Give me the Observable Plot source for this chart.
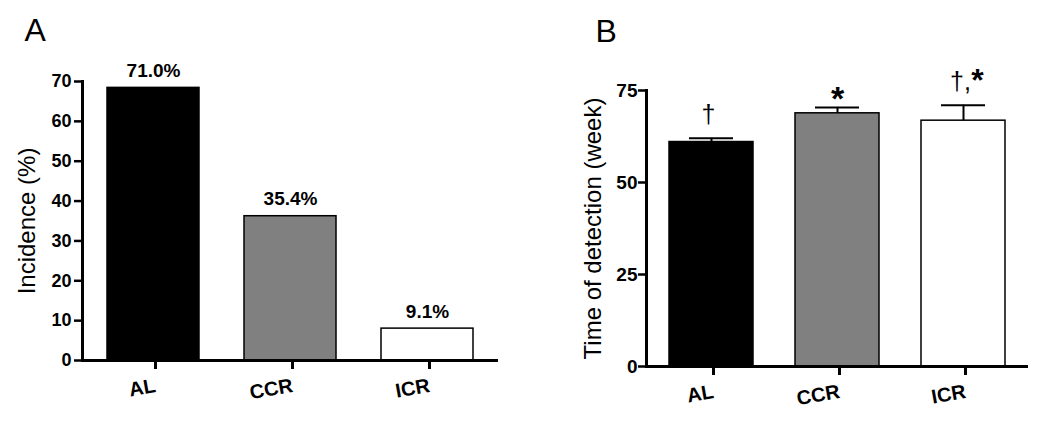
<!DOCTYPE html>
<html><head><meta charset="utf-8">
<script src="https://cdn.jsdelivr.net/npm/d3@7"></script>
<script src="https://cdn.jsdelivr.net/npm/@observablehq/plot@0.6"></script>
<style>
body{margin:0;background:#fff;}
#wrap{display:flex;width:1050px;height:430px;}
</style></head><body><div id="wrap"></div>
<script>
const categories = ["AL", "CCR", "ICR"];
const incidence = [68.4, 36.2, 8.0];
const incidenceLabels = ["71.0%", "35.4%", "9.1%"];
const detectionMean = [61.0, 68.8, 66.8];
const detectionSem = [1.0, 1.6, 4.2];
const detectionNotes = ["†", "*", "†,*"];
const incidenceTicks = [0, 10, 20, 30, 40, 50, 60, 70];
const detectionTicks = [0, 25, 50, 75];
const barColors = ["#000000", "#808080", "#ffffff"];

const font = "'Liberation Sans', Arial, Helvetica, sans-serif";
const rowsA = categories.map((c, i) => ({cat: c, value: incidence[i], label: incidenceLabels[i]}));
const rowsB = categories.map((c, i) => ({cat: c, mean: detectionMean[i], sem: detectionSem[i], top: detectionMean[i] + detectionSem[i], note: detectionNotes[i]}));

const style = {fontFamily: font, color: "#000", background: "white", fontWeight: "bold", fontSize: "18px"};

const A = Plot.plot({
  width: 525, height: 430, marginLeft: 82, marginRight: 27, marginTop: 81, marginBottom: 70,
  style,
  x: {domain: categories, paddingInner: 0.33, paddingOuter: 0.18},
  y: {domain: [0, 70]},
  color: {domain: categories, range: barColors},
  marks: [
    Plot.barY(rowsA, {x: "cat", y: "value", fill: "cat", stroke: "#000", strokeWidth: 1.5}),
    Plot.text(rowsA, {x: "cat", y: "value", text: "label", lineAnchor: "bottom", dy: -11, fontSize: 19, fontWeight: "bold"}),
    Plot.frame({anchor: "left", strokeWidth: 3}),
    Plot.ruleY([0], {strokeWidth: 3}),
    Plot.axisY(incidenceTicks, {tickSize: 8, tickPadding: 3, strokeWidth: 2.5, fontSize: 18, fontWeight: "bold", label: null}),
    Plot.axisX({tickSize: 9, strokeWidth: 3, tickPadding: 16, dx: 2, tickRotate: -10, textAnchor: "end", lineAnchor: "middle", fontSize: 20, fontWeight: "bold", label: null}),
    Plot.text(["Incidence (%)"], {frameAnchor: "left", rotate: -90, dx: -55, textAnchor: "middle", lineAnchor: "middle", fontSize: 24, fontWeight: "normal"}),
    Plot.text(["A"], {frameAnchor: "top-left", dx: -58, dy: -41, lineAnchor: "bottom", textAnchor: "start", fontSize: 32, fontWeight: "normal"})
  ]
});

const daggerRows = rowsB.filter(d => d.note.includes("†"));
const starAloneRows = rowsB.filter(d => d.note === "*");
const starPairRows = rowsB.filter(d => d.note.includes("†") && d.note.includes("*"));

const B = Plot.plot({
  width: 525, height: 430, marginLeft: 121, marginRight: 22, marginTop: 90, marginBottom: 64,
  style,
  x: {domain: categories, paddingInner: 0.33, paddingOuter: 0.17},
  y: {domain: [0, 75]},
  color: {domain: categories, range: barColors},
  marks: [
    Plot.barY(rowsB, {x: "cat", y: "mean", fill: "cat", stroke: "#000", strokeWidth: 1.5}),
    Plot.ruleX(rowsB, {x: "cat", y1: "mean", y2: "top", strokeWidth: 2}),
    Plot.tickY(rowsB, {x: "cat", y: "top", strokeWidth: 2, insetLeft: 20, insetRight: 20}),
    Plot.text(daggerRows, {x: "cat", y: "top", text: d => d.note.replace("*", ""), lineAnchor: "bottom", dx: -3, dy: -15, fontSize: 25, fontWeight: "normal"}),
    Plot.text(starAloneRows, {x: "cat", y: "top", text: d => d.note, lineAnchor: "bottom", dy: 3, fontSize: 34, fontWeight: "bold"}),
    Plot.text(starPairRows, {x: "cat", y: "top", text: d => d.note.slice(-1), lineAnchor: "bottom", dx: 14, dy: -14, fontSize: 32, fontWeight: "bold"}),
    Plot.frame({anchor: "left", strokeWidth: 3}),
    Plot.ruleY([0], {strokeWidth: 3}),
    Plot.axisY(detectionTicks, {tickSize: 8, tickPadding: 1, strokeWidth: 2.5, fontSize: 19, fontWeight: "bold", label: null}),
    Plot.axisX({tickSize: 9, strokeWidth: 3, tickPadding: 16, dx: 2, tickRotate: -10, textAnchor: "end", lineAnchor: "middle", fontSize: 20, fontWeight: "bold", label: null}),
    Plot.text(["Time of detection (week)"], {frameAnchor: "left", rotate: -90, dx: -53, textAnchor: "middle", lineAnchor: "middle", fontSize: 24, fontWeight: "normal"}),
    Plot.text(["B"], {frameAnchor: "top-left", dx: -51, dy: -49, lineAnchor: "bottom", textAnchor: "start", fontSize: 32, fontWeight: "normal"})
  ]
});

document.getElementById("wrap").append(A, B);
</script>
</body></html>
